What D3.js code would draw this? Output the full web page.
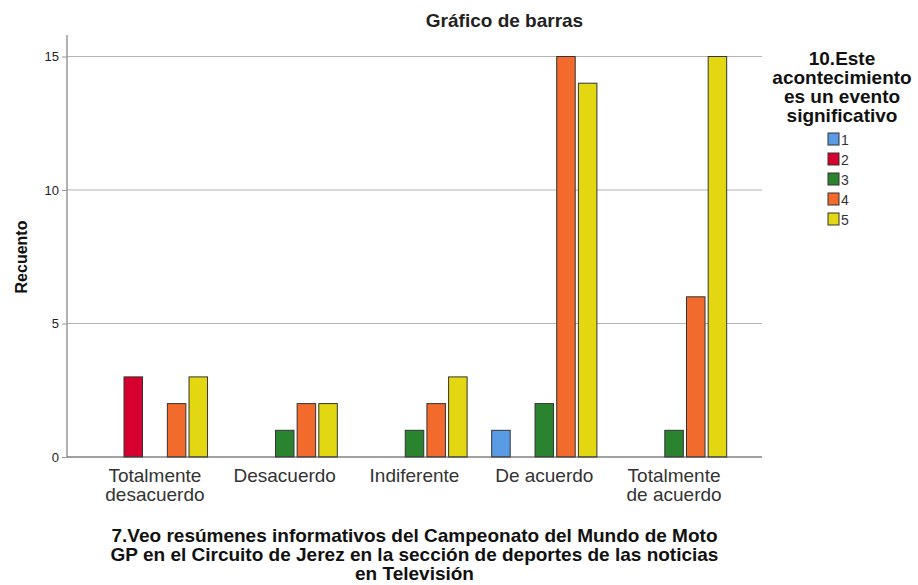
<!DOCTYPE html>
<meta charset="utf-8">
<script src="https://d3js.org/d3.v7.min.js"></script>
<style>
body { margin: 0; background: #fff; }
text { font-family: Arial, "Liberation Sans", sans-serif; }
</style>
<body></body>
<script>

// data
var categories = ["Totalmente desacuerdo", "Desacuerdo", "Indiferente", "De acuerdo", "Totalmente de acuerdo"];
var series = ["1", "2", "3", "4", "5"];
var s1 = [0, 0, 0, 1, 0];
var s2 = [3, 0, 0, 0, 0];
var s3 = [0, 1, 1, 2, 1];
var s4 = [2, 2, 2, 15, 6];
var s5 = [3, 2, 3, 14, 15];
var yTicks = [0, 5, 10, 15];
var colors = ["#5a9be6", "#d6002f", "#2a832f", "#f26a2c", "#e3d712"];

var values = [s1, s2, s3, s4, s5];

var width = 918, height = 585;
var plot = {left: 67, right: 762, top: 35, bottom: 457};

var svg = d3.select("body").append("svg")
    .attr("width", width)
    .attr("height", height);

var x0 = d3.scaleBand()
  .domain(categories)
  .range([plot.left, plot.right])
  .paddingInner(0.165)
  .paddingOuter(0.26);

var x1 = d3.scaleBand()
  .domain(series)
  .range([0, x0.bandwidth()])
  .paddingInner(0.1)
  .paddingOuter(0.05);

var y = d3.scaleLinear()
  .domain([0, 15])
  .range([plot.bottom, 56.5]);

// gridlines
svg.append("g")
  .selectAll("line")
  .data(yTicks.filter(d => d > 0))
  .enter().append("line")
  .attr("x1", plot.left).attr("x2", plot.right)
  .attr("y1", d => y(d)).attr("y2", d => y(d))
  .attr("stroke", "#b4b4b4").attr("stroke-width", 1);

// y axis
var yAxis = d3.axisLeft(y).tickValues(yTicks).tickSize(5).tickPadding(3);
var yg = svg.append("g")
  .attr("transform", `translate(${plot.left},0)`)
  .call(yAxis);
yg.select(".domain").remove();
yg.selectAll(".tick line").attr("stroke", "#999");
yg.selectAll("text").attr("font-size", 13).attr("fill", "#222");
svg.append("line")
  .attr("x1", plot.left).attr("x2", plot.left)
  .attr("y1", plot.top).attr("y2", plot.bottom)
  .attr("stroke", "#999").attr("stroke-width", 1.5);

// bars
var groups = svg.append("g")
  .selectAll("g")
  .data(categories)
  .enter().append("g")
  .attr("transform", d => `translate(${x0(d)},0)`);

groups.selectAll("rect")
  .data((c, ci) => series.map((s, si) => ({s: s, si: si, v: values[si][ci]})).filter(d => d.v > 0))
  .enter().append("rect")
  .attr("x", d => x1(d.s) + 0.5)
  .attr("y", d => y(d.v))
  .attr("width", x1.bandwidth() - 1)
  .attr("height", d => y(0) - y(d.v))
  .attr("fill", d => colors[d.si])
  .attr("stroke", "#333")
  .attr("stroke-width", 1);

// x axis
svg.append("line")
  .attr("x1", plot.left).attr("x2", plot.right)
  .attr("y1", plot.bottom).attr("y2", plot.bottom)
  .attr("stroke", "#444").attr("stroke-width", 1.2);

var xLabels = {
  "Totalmente desacuerdo": ["Totalmente", "desacuerdo"],
  "Desacuerdo": ["Desacuerdo"],
  "Indiferente": ["Indiferente"],
  "De acuerdo": ["De acuerdo"],
  "Totalmente de acuerdo": ["Totalmente", "de acuerdo"]
};
svg.append("g")
  .selectAll("text")
  .data(categories)
  .enter().append("text")
  .attr("x", d => x0(d) + x0.bandwidth() / 2)
  .attr("y", 482)
  .attr("text-anchor", "middle")
  .attr("font-size", 19)
  .attr("fill", "#333")
  .each(function(d) {
    var t = d3.select(this);
    xLabels[d].forEach((line, i) => {
      t.append("tspan").attr("x", x0(d) + x0.bandwidth() / 2).attr("dy", i ? 19 : 0).text(line);
    });
  });

// title
svg.append("text")
  .attr("x", 504.5).attr("y", 27)
  .attr("text-anchor", "middle")
  .attr("font-size", 19).attr("font-weight", "bold").attr("fill", "#222")
  .text("Gráfico de barras");

// y title
svg.append("text")
  .attr("transform", "translate(27,257) rotate(-90)")
  .attr("text-anchor", "middle")
  .attr("font-size", 16).attr("font-weight", "bold").attr("fill", "#111")
  .text("Recuento");

// x title
var xt = ["7.Veo resúmenes informativos del Campeonato del Mundo de Moto",
          "GP en el Circuito de Jerez en la sección de deportes de las noticias",
          "en Televisión"];
svg.append("g").selectAll("text")
  .data(xt)
  .enter().append("text")
  .attr("x", (plot.left + plot.right) / 2)
  .attr("y", (d, i) => 542 + i * 19)
  .attr("text-anchor", "middle")
  .attr("font-size", 19).attr("font-weight", "bold").attr("fill", "#111")
  .text(d => d);

// legend
var lt = ["10.Este", "acontecimiento", "es un evento", "significativo"];
svg.append("g").selectAll("text")
  .data(lt)
  .enter().append("text")
  .attr("x", 842)
  .attr("y", (d, i) => 65 + i * 19)
  .attr("text-anchor", "middle")
  .attr("font-size", 19).attr("font-weight", "bold").attr("fill", "#111")
  .text(d => d);

var leg = svg.append("g").selectAll("g")
  .data(series)
  .enter().append("g")
  .attr("transform", (d, i) => `translate(828,${133 + i * 20})`);
leg.append("rect")
  .attr("width", 11).attr("height", 12)
  .attr("fill", (d, i) => colors[i])
  .attr("stroke", "#333").attr("stroke-width", 1);
leg.append("text")
  .attr("x", 13).attr("y", 11.5)
  .attr("font-size", 14).attr("fill", "#333")
  .text(d => d);

</script>
